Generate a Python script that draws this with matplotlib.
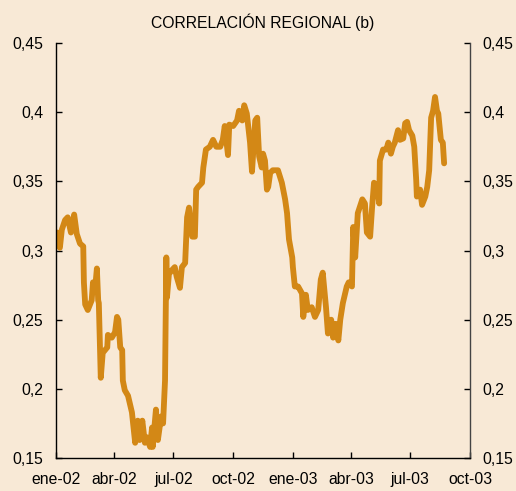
import pandas as pd
import numpy as np
import matplotlib
matplotlib.use('Agg')
import matplotlib.pyplot as plt
import matplotlib.ticker as mticker

plt.rcParams['font.family'] = ['Liberation Sans', 'DejaVu Sans']

# Data
dates = [
    '2002-01-03', '2002-01-04', '2002-01-07', '2002-01-10', '2002-01-15', '2002-01-19',
    '2002-01-24', '2002-01-29', '2002-02-02', '2002-02-07', '2002-02-12', '2002-02-13',
    '2002-02-15', '2002-02-19', '2002-02-25', '2002-02-27', '2002-03-02', '2002-03-05',
    '2002-03-07', '2002-03-08', '2002-03-11', '2002-03-14', '2002-03-21', '2002-03-22',
    '2002-03-28', '2002-04-02', '2002-04-05', '2002-04-07', '2002-04-10', '2002-04-13',
    '2002-04-14', '2002-04-17', '2002-04-22', '2002-04-28', '2002-05-03', '2002-05-07',
    '2002-05-10', '2002-05-14', '2002-05-18', '2002-05-21', '2002-05-26', '2002-05-29',
    '2002-05-30', '2002-06-04', '2002-06-07', '2002-06-12', '2002-06-15', '2002-06-18',
    '2002-06-20', '2002-06-21', '2002-06-24', '2002-06-29', '2002-07-03', '2002-07-06',
    '2002-07-11', '2002-07-14', '2002-07-19', '2002-07-22', '2002-07-25', '2002-07-30',
    '2002-08-03', '2002-08-05', '2002-08-08', '2002-08-14', '2002-08-16', '2002-08-20',
    '2002-08-26', '2002-08-31', '2002-09-05', '2002-09-11', '2002-09-15', '2002-09-18',
    '2002-09-23', '2002-09-25', '2002-10-01', '2002-10-07', '2002-10-10', '2002-10-15',
    '2002-10-18', '2002-10-22', '2002-10-27', '2002-10-30', '2002-11-04', '2002-11-07',
    '2002-11-10', '2002-11-14', '2002-11-16', '2002-11-19', '2002-11-22', '2002-11-24',
    '2002-11-27', '2002-12-01', '2002-12-09', '2002-12-15', '2002-12-20', '2002-12-23',
    '2002-12-26', '2002-12-31', '2003-01-01', '2003-01-04', '2003-01-09', '2003-01-15',
    '2003-01-17', '2003-01-21', '2003-01-24', '2003-01-30', '2003-02-04', '2003-02-09',
    '2003-02-13', '2003-02-16', '2003-02-21', '2003-02-24', '2003-03-01', '2003-03-04',
    '2003-03-08', '2003-03-12', '2003-03-15', '2003-03-19', '2003-03-25', '2003-03-28',
    '2003-04-02', '2003-04-04', '2003-04-07', '2003-04-11', '2003-04-18', '2003-04-22',
    '2003-04-25', '2003-04-30', '2003-05-03', '2003-05-06', '2003-05-11', '2003-05-14',
    '2003-05-15', '2003-05-20', '2003-05-25', '2003-05-28', '2003-06-01', '2003-06-04',
    '2003-06-07', '2003-06-12', '2003-06-15', '2003-06-20', '2003-06-23', '2003-06-26',
    '2003-06-29', '2003-07-04', '2003-07-07', '2003-07-10', '2003-07-11', '2003-07-16',
    '2003-07-19', '2003-07-24', '2003-07-27', '2003-07-30', '2003-08-02', '2003-08-05',
    '2003-08-08', '2003-08-11', '2003-08-13', '2003-08-17', '2003-08-20', '2003-08-22',
]
correlacion = [
    0.313, 0.305, 0.302, 0.315, 0.322, 0.324,
    0.313, 0.326, 0.312, 0.305, 0.303, 0.277,
    0.261, 0.257, 0.264, 0.277, 0.271, 0.287,
    0.264, 0.262, 0.208, 0.226, 0.230, 0.239,
    0.237, 0.241, 0.252, 0.250, 0.230, 0.228,
    0.206, 0.199, 0.195, 0.183, 0.161, 0.177,
    0.163, 0.177, 0.161, 0.165, 0.158, 0.172,
    0.158, 0.185, 0.163, 0.180, 0.175, 0.206,
    0.295, 0.266, 0.283, 0.286, 0.288, 0.281,
    0.273, 0.288, 0.291, 0.324, 0.331, 0.310,
    0.310, 0.344, 0.346, 0.349, 0.360, 0.373,
    0.375, 0.380, 0.375, 0.375, 0.380, 0.390,
    0.369, 0.391, 0.390, 0.394, 0.401, 0.394,
    0.405, 0.399, 0.378, 0.357, 0.394, 0.396,
    0.368, 0.360, 0.370, 0.365, 0.344, 0.346,
    0.356, 0.358, 0.358, 0.349, 0.337, 0.327,
    0.308, 0.295, 0.288, 0.274, 0.274, 0.269,
    0.252, 0.268, 0.257, 0.259, 0.252, 0.257,
    0.279, 0.284, 0.259, 0.240, 0.250, 0.237,
    0.247, 0.235, 0.250, 0.262, 0.274, 0.277,
    0.274, 0.317, 0.295, 0.327, 0.337, 0.334,
    0.313, 0.310, 0.331, 0.349, 0.346, 0.334,
    0.365, 0.373, 0.373, 0.378, 0.370, 0.375,
    0.378, 0.387, 0.380, 0.381, 0.392, 0.393,
    0.387, 0.383, 0.375, 0.351, 0.339, 0.344,
    0.333, 0.339, 0.346, 0.358, 0.396, 0.401,
    0.411, 0.401, 0.399, 0.380, 0.378, 0.363,
]
tick_dates = ['2002-01-01', '2002-04-01', '2002-07-01', '2002-10-01',
              '2003-01-01', '2003-04-01', '2003-07-01', '2003-10-01']
tick_labels = ['ene-02', 'abr-02', 'jul-02', 'oct-02',
               'ene-03', 'abr-03', 'jul-03', 'oct-03']
y_ticks = [0.15, 0.2, 0.25, 0.3, 0.35, 0.4, 0.45]

bg = '#F8E9D6'
fig = plt.figure(figsize=(5.16, 4.91), dpi=100, facecolor=bg)
ax = fig.add_axes([0.1085, 0.0672, 0.8025, 0.8452], facecolor=bg)

ax.plot(pd.to_datetime(dates), correlacion, color='#D38816', linewidth=4.2,
        solid_joinstyle='round', solid_capstyle='round')

ax.set_xlim(pd.Timestamp('2002-01-01'), pd.Timestamp('2003-10-01'))
ax.set_ylim(0.15, 0.45)
ax.set_xticks(pd.to_datetime(tick_dates))
ax.set_xticklabels(tick_labels)
ax.set_yticks(y_ticks)
ax.yaxis.set_major_formatter(mticker.FuncFormatter(lambda v, p: f'{v:g}'.replace('.', ',')))

ax.spines['top'].set_visible(False)
for s in ['left', 'right', 'bottom']:
    ax.spines[s].set_linewidth(1.0)
    ax.spines[s].set_color('black')
ax.spines['right'].set_color('#444444')

ax.tick_params(axis='both', direction='in', length=4.5, width=1.0, labelsize=11.3,
               colors='black')
ax.tick_params(axis='y', which='both', left=True, right=True,
               labelleft=True, labelright=True, pad=9)
ax.tick_params(axis='x', pad=10)

ax.set_title('CORRELACIÓN REGIONAL (b)', fontsize=11.3, pad=11)

fig.savefig('out.png', dpi=100, facecolor=bg)
